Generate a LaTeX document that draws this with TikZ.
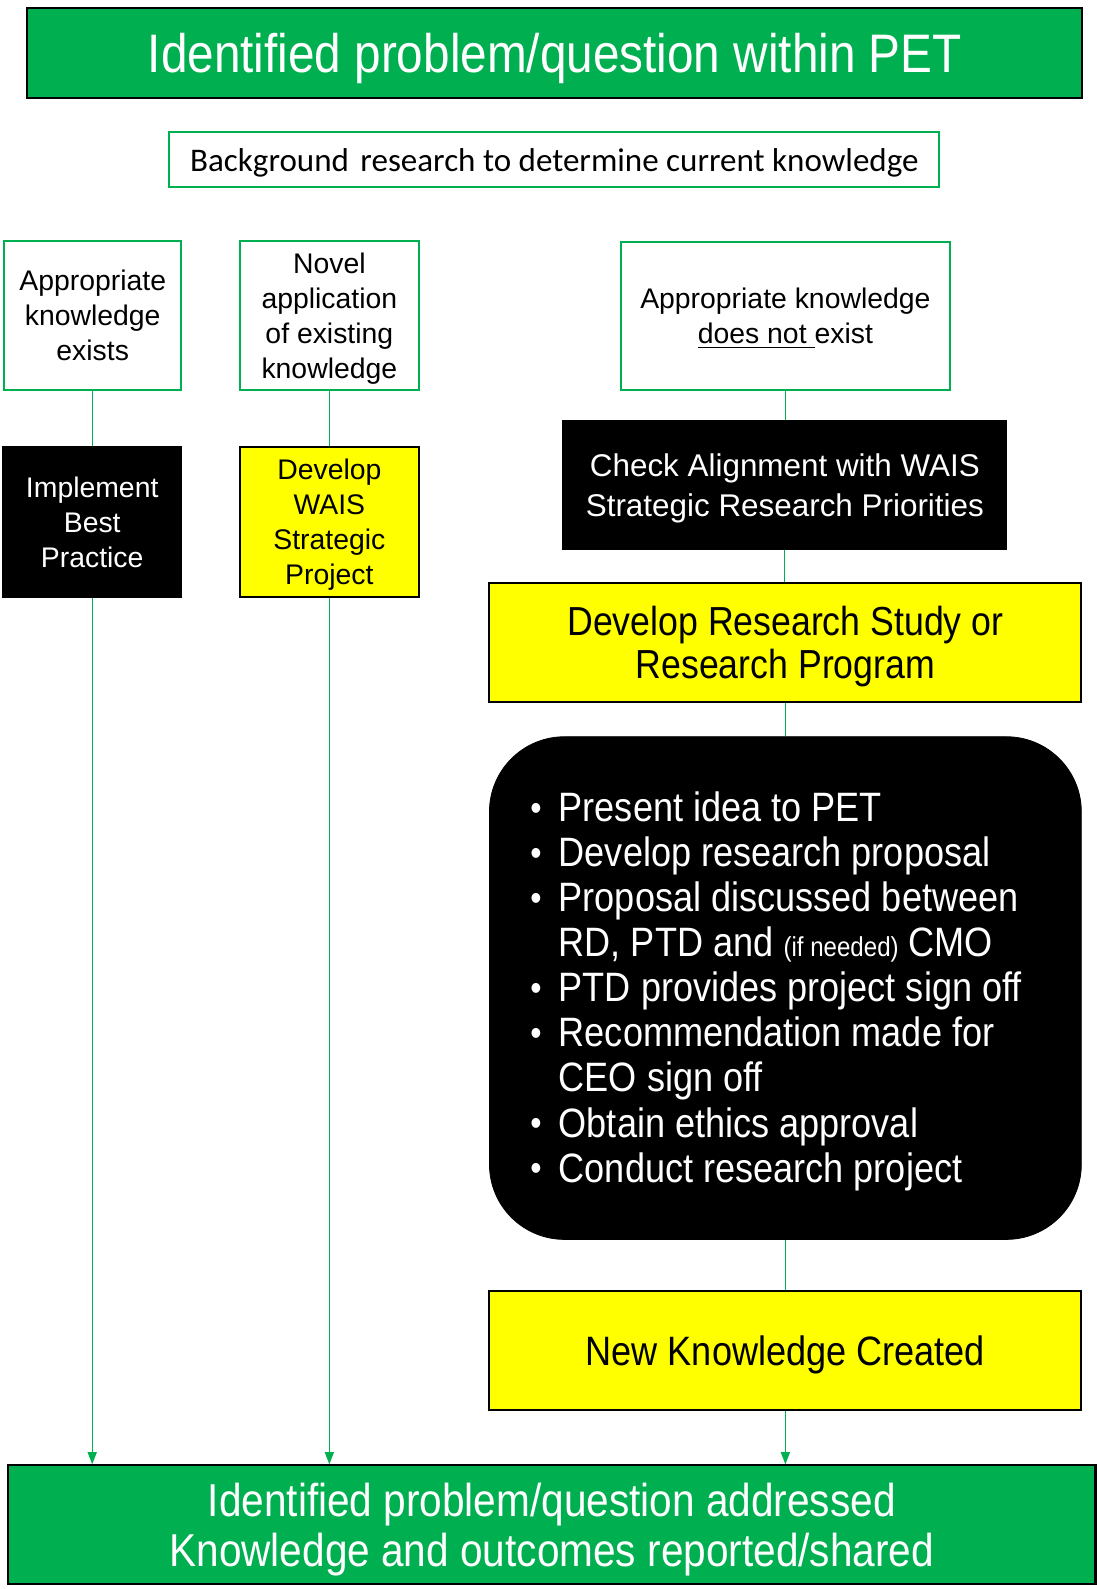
\documentclass[tikz,border=0pt]{standalone}
\usepackage{fontspec}
\setmainfont{Liberation Sans}
\newfontfamily\twfont[FakeStretch=0.88]{Liberation Sans}
\newfontfamily\calfont{Carlito}
\usetikzlibrary{arrows.meta}
\definecolor{pgreen}{HTML}{00B050}
\definecolor{pyellow}{HTML}{FFFF00}
\newcommand\bul{\makebox[14pt][l]{\raisebox{0.6pt}{\fontsize{18}{18}\selectfont\textbullet}}}
\tikzset{
  greenbox/.style={draw=black, fill=pgreen, line width=1.1pt, text=white, align=center, inner sep=0pt, text depth=0pt},
  outlinebox/.style={draw=pgreen, fill=white, line width=1pt, text=black, align=center, inner sep=0pt, text depth=0pt},
  blackbox/.style={draw=black, fill=black, line width=1pt, text=white, align=center, inner sep=0pt, text depth=0pt},
  yellowbox/.style={draw=black, fill=pyellow, line width=1pt, text=black, align=center, inner sep=0pt, text depth=0pt},
  smalltext/.style={font=\fontsize{14}{17.25}\selectfont},
  conn/.style={draw=pgreen, line width=0.6pt},
  arr/.style={conn, -{Triangle[width=4.5pt,length=6pt]}}
}
\begin{document}
\begin{tikzpicture}[x=0.5pt,y=-0.5pt]
\useasboundingbox (0,0) rectangle (1082,1568);
% top
\node[greenbox, minimum width=520.5pt, minimum height=44.5pt,
      font=\twfont\fontsize{26.75}{30}\selectfont] (top) at (547.5,52.5)
      {Identified problem/question within PET};
\node[outlinebox, minimum width=380pt, minimum height=27.5pt,
      font=\calfont\fontsize{16.3}{19}\selectfont] (bg) at (547,157.5)
      {Background\hspace{2pt} research to determine current knowledge};
% three situations
\node[outlinebox, smalltext, minimum width=87.5pt, minimum height=73.5pt] (A) at (91.5,311.5)
      {Appropriate\\knowledge\\exists};
\node[outlinebox, smalltext, minimum width=88pt, minimum height=73.5pt] (B) at (325,311.5)
      {Novel\\application\\of existing\\knowledge};
\node[outlinebox, smalltext, minimum width=162pt, minimum height=73pt] (C) at (775,312)
      {Appropriate knowledge\\\underline{does not\ }exist};
% second row
\node[blackbox, smalltext, minimum width=88pt, minimum height=74pt] (impl) at (91,515)
      {Implement\\Best\\Practice};
\node[yellowbox, smalltext, minimum width=88pt, minimum height=74pt] (wais) at (325,515)
      {Develop\\WAIS\\Strategic\\Project};
\node[blackbox, minimum width=218.5pt, minimum height=63.5pt,
      font=\fontsize{15.5}{19.5}\selectfont] (check) at (774.5,478.5)
      {Check Alignment with WAIS\\Strategic Research Priorities};
\node[yellowbox, minimum width=292pt, minimum height=59pt,
      font=\twfont\fontsize{20}{21.5}\selectfont] (devres) at (775,634)
      {Develop Research Study or\\Research Program};
% rounded list box
\node[draw=black, fill=black, rounded corners=37pt, minimum width=292pt, minimum height=248pt,
      inner sep=0pt] (round) at (775,975) {};
\node[anchor=west, align=left, text=white, inner sep=0pt,
      font=\twfont\fontsize{20.25}{22.25}\selectfont] (list) at (523,978)
      {\bul Present idea to PET\\
       \bul Develop research proposal\\
       \bul Proposal discussed between\\
       \hspace*{14pt}RD, PTD and {\fontsize{13.5}{13.5}\selectfont(if needed)} CMO\\
       \bul PTD provides project sign off\\
       \bul Recommendation made for\\
       \hspace*{14pt}CEO sign off\\
       \bul Obtain ethics approval\\
       \bul Conduct research project};
\node[yellowbox, minimum width=292pt, minimum height=58.5pt,
      font=\twfont\fontsize{20.25}{22.25}\selectfont] (newk) at (775,1332.5)
      {New Knowledge Created};
% bottom
\node[greenbox, minimum width=536.5pt, minimum height=58.5pt,
      font=\twfont\fontsize{22.75}{25}\selectfont] (bot) at (544.5,1504.5)
      {Identified problem/question addressed\\Knowledge and outcomes reported/shared};
% connectors
\draw[conn] (A.south) -- (A.south |- impl.north);
\draw[arr] (impl.south) -- (impl.south |- bot.north);
\draw[conn] (B.south) -- (B.south |- wais.north);
\draw[arr] (wais.south) -- (wais.south |- bot.north);
\draw[conn] (C.south) -- (C.south |- check.north);
\draw[conn] (check.south) -- (check.south |- devres.north);
\draw[conn] (devres.south) -- (devres.south |- round.north);
\draw[conn] (round.south) -- (round.south |- newk.north);
\draw[arr] (newk.south) -- (newk.south |- bot.north);
\end{tikzpicture}
\end{document}
